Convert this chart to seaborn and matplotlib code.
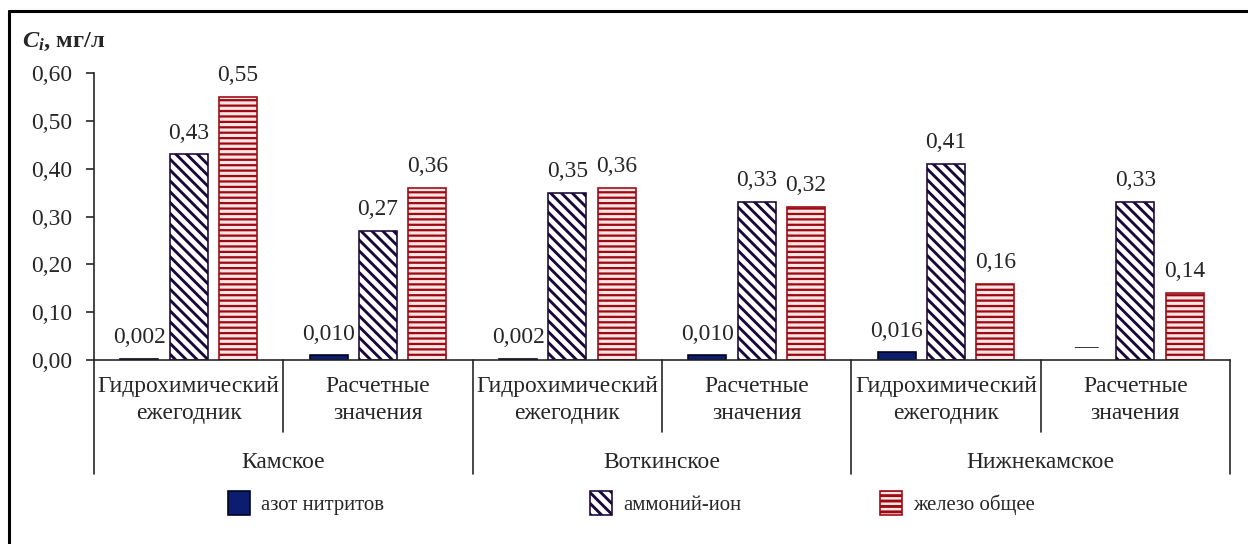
import numpy as np
import pandas as pd
import matplotlib
matplotlib.use("Agg")
import matplotlib.pyplot as plt
from matplotlib.patches import Patch
from matplotlib.lines import Line2D
from matplotlib.transforms import blended_transform_factory
import seaborn as sns

# ---- data -------------------------------------------------------------
groups = ["Камское", "Воткинское", "Нижнекамское"]
sources = ["Гидрохимический\nежегодник", "Расчетные\nзначения"]
components = ["азот нитритов", "аммоний-ион", "железо общее"]

nitrite = [0.002, 0.010, 0.002, 0.010, 0.016, np.nan]
ammonium = [0.43, 0.27, 0.35, 0.33, 0.41, 0.33]
iron = [0.55, 0.36, 0.36, 0.32, 0.16, 0.14]

y_ticks = [0.0, 0.1, 0.2, 0.3, 0.4, 0.5, 0.6]
decimals = {"азот нитритов": 3, "аммоний-ион": 2, "железо общее": 2}
missing_label = "—"

# ---- long table for seaborn ------------------------------------------
slots = [f"{g}|{s}" for g in groups for s in sources]
series = {"азот нитритов": nitrite, "аммоний-ион": ammonium, "железо общее": iron}
rows = []
for comp, vals in series.items():
    for slot, v in zip(slots, vals):
        rows.append({"slot": slot, "component": comp, "value": v})
df = pd.DataFrame(rows)

# ---- styling ----------------------------------------------------------
sns.set_style("white")
DPI = 130
FS = 13
plt.rcParams["font.family"] = ["Liberation Serif", "DejaVu Serif"]
plt.rcParams["mathtext.fontset"] = "custom"
plt.rcParams["mathtext.it"] = "Liberation Serif:italic:bold"
plt.rcParams["mathtext.rm"] = "Liberation Serif:bold"
plt.rcParams["font.size"] = FS
plt.rcParams["hatch.linewidth"] = 1.6

styles = {
    "азот нитритов": dict(facecolor="#0a1d6e", edgecolor="#00001e", hatch=None, hlw=None),
    "аммоний-ион": dict(facecolor="white", edgecolor="#1a0838", hatch="\\\\\\\\", hlw=1.6),
    "железо общее": dict(facecolor="#ffe4e4", edgecolor="#9c0a14", hatch="----", hlw=1.25),
}

fig = plt.figure(figsize=(1248 / DPI, 544 / DPI), dpi=DPI)
ax = fig.add_axes([0.0753, 0.338, 0.9103, 0.5276])

sns.barplot(
    data=df, x="slot", y="value", hue="component",
    order=slots, hue_order=components,
    width=0.78, gap=0.23, errorbar=None, legend=False, ax=ax,
    palette=["#0a1d6e", "white", "#ffe4e4"],
)

# ---- bar styling & value labels --------------------------------------
def fmt(v, nd):
    return f"{v:.{nd}f}".replace(".", ",")

nitrite_offset = None
for cont, comp in zip(ax.containers, components):
    st = styles[comp]
    labels = []
    for p in cont:
        p.set_facecolor(st["facecolor"])
        p.set_edgecolor(st["edgecolor"])
        p.set_linewidth(0.9)
        if st["hatch"]:
            p.set_hatch(st["hatch"])
            if hasattr(p, "set_hatch_linewidth"):
                p.set_hatch_linewidth(st["hlw"])
        h = p.get_height()
        labels.append(fmt(h, decimals[comp]) if np.isfinite(h) else "")
    ax.bar_label(cont, labels=labels, padding=6, fontsize=FS)
    if comp == "азот нитритов":
        first = cont[0]
        nitrite_offset = first.get_x() + first.get_width() / 2 - 0

# dash for the missing nitrite value
for i, v in enumerate(nitrite):
    if not np.isfinite(v):
        ax.annotate(missing_label, xy=(i + nitrite_offset, 0), xytext=(0, 1),
                    textcoords="offset points", ha="center", va="bottom", fontsize=FS)

# ---- axes -------------------------------------------------------------
ax.set_xlim(-0.5, len(slots) - 0.5)
ax.set_ylim(0, 0.6)
ax.set_yticks(y_ticks)
ax.set_yticklabels([fmt(t, 2) for t in y_ticks])
ax.set_xticks([])
ax.set_xlabel("")
ax.set_ylabel("")
for s in ["top", "right"]:
    ax.spines[s].set_visible(False)
for s in ["left", "bottom"]:
    ax.spines[s].set_color("#222222")
    ax.spines[s].set_linewidth(0.9)
ax.tick_params(axis="y", direction="out", length=4.5, width=0.9, color="#222222",
               pad=7.5, labelsize=FS, left=True)

# multi-level category axis
trans = blended_transform_factory(ax.transData, ax.transAxes)
for i, slot in enumerate(slots):
    src = slot.split("|")[1]
    ax.text(i, -0.139, src, transform=trans, ha="center", va="center",
            fontsize=FS, linespacing=1.4)
for j, g in enumerate(groups):
    ax.text(2 * j + 0.5, -0.357, g, transform=trans, ha="center", va="center", fontsize=FS)
    # short separator between the two sources
    ax.add_line(Line2D([2 * j + 0.5] * 2, [0, -0.251], transform=trans,
                       color="#222222", lw=0.9, clip_on=False))
for k in range(len(groups) + 1):
    ax.add_line(Line2D([2 * k - 0.5] * 2, [0, -0.397], transform=trans,
                       color="#222222", lw=0.9, clip_on=False))

# axis title
fig.text(22 / 1248, 1 - 42 / 544, r"$C_i$, мг/л", ha="left", va="center",
         fontsize=13.5, fontweight="bold")

# ---- legend -----------------------------------------------------------
legend_x = [228, 590, 880]
for comp, lx in zip(components, legend_x):
    st = styles[comp]
    h = Patch(facecolor=st["facecolor"], edgecolor=st["edgecolor"],
              hatch=st["hatch"], linewidth=0.9)
    fig.legend(handles=[h], labels=[comp], loc="center left",
               bbox_to_anchor=(lx / 1248, 1 - 503 / 544), frameon=False,
               handlelength=1.05, handleheight=1.45, handletextpad=0.55,
               borderpad=0, borderaxespad=0, fontsize=11.5)

# frame around the figure
fig.add_artist(Line2D([8.5 / 1248, 8.5 / 1248], [0, 1 - 11 / 544],
                      transform=fig.transFigure, color="black", lw=1.7))
fig.add_artist(Line2D([8.5 / 1248, 1.0], [1 - 11 / 544, 1 - 11 / 544],
                      transform=fig.transFigure, color="black", lw=1.7))

fig.savefig("out.png", dpi=DPI)
